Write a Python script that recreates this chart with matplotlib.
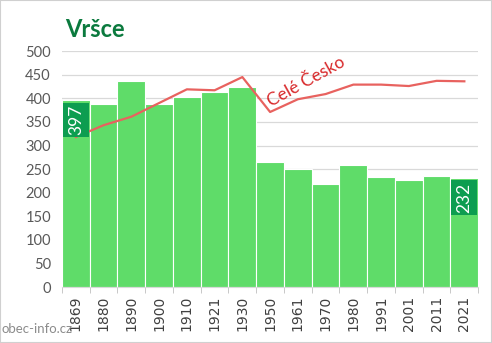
import numpy as np
import matplotlib
matplotlib.use("Agg")
import matplotlib.pyplot as plt
from matplotlib.patches import Rectangle

years = ["1869", "1880", "1890", "1900", "1910", "1921", "1930", "1950",
         "1961", "1970", "1980", "1991", "2001", "2011", "2021"]
obyvatel = [397, 388, 437, 388, 402, 413, 425, 265, 251, 218, 259, 234, 226, 236, 232]
cesko = [318, 343, 361, 390, 419, 417, 445, 371, 398, 409, 429, 429, 426, 437, 436]

plt.rcParams["font.family"] = ["Lato", "DejaVu Sans"]

fig = plt.figure(figsize=(4.92, 3.43), dpi=100)
ax = fig.add_axes([0.126, 0.163, 0.846, 0.688])

x = np.arange(len(years))
ax.bar(x, obyvatel, width=1.0, color="#5fdc69", edgecolor="white", linewidth=0.8, zorder=2)
ax.plot(x, cesko, color="#e8625f", linewidth=1.6, zorder=3)

# popisky prvni a posledni hodnoty
for i in [0, len(years) - 1]:
    v = obyvatel[i]
    ax.add_patch(Rectangle((i - 0.47, v - 80), 0.94, 74, facecolor="#0d9d50",
                           edgecolor="none", zorder=4))
    ax.text(i, v - 43, str(v), rotation=90, color="white", fontsize=12.5,
            ha="center", va="center", zorder=5)

ax.text(8.3, 435, "Celé Česko", rotation=29, color="#d8282a",
        fontsize=12.5, ha="center", va="center", zorder=5)

ax.set_xlim(-0.5, len(years) - 0.5)
ax.set_ylim(0, 500)
ax.set_yticks(range(0, 501, 50))
ax.yaxis.grid(True, color="#d9d9d9", linewidth=0.9, zorder=0)
ax.set_axisbelow(True)
ax.set_xticks(x)
ax.set_xticklabels(years, rotation=90, fontsize=10, color="#404040", family="DejaVu Sans")
ax.set_xticks(np.arange(-0.5, len(years), 1), minor=True)
ax.tick_params(axis="x", which="major", length=0, pad=6)
ax.tick_params(axis="x", which="minor", length=4, color="#bfbfbf")
ax.tick_params(axis="y", length=0, labelsize=10.5, labelcolor="#595959", pad=8)
for s in ["top", "right", "left"]:
    ax.spines[s].set_visible(False)
ax.spines["bottom"].set_color("#d9d9d9")

fig.text(0.132, 0.915, "Vršce", fontsize=17, fontweight="bold", color="#0b7a3e",
         ha="left", va="center")
fig.text(0.004, 0.04, "obec-info.cz", fontsize=9.5, color="#8c8c8c", ha="left", va="center")
fig.patches.append(Rectangle((0, 0), 1, 1, transform=fig.transFigure, fill=False,
                             edgecolor="#d0d0d0", linewidth=1.5))

fig.savefig("out.png", dpi=100)
